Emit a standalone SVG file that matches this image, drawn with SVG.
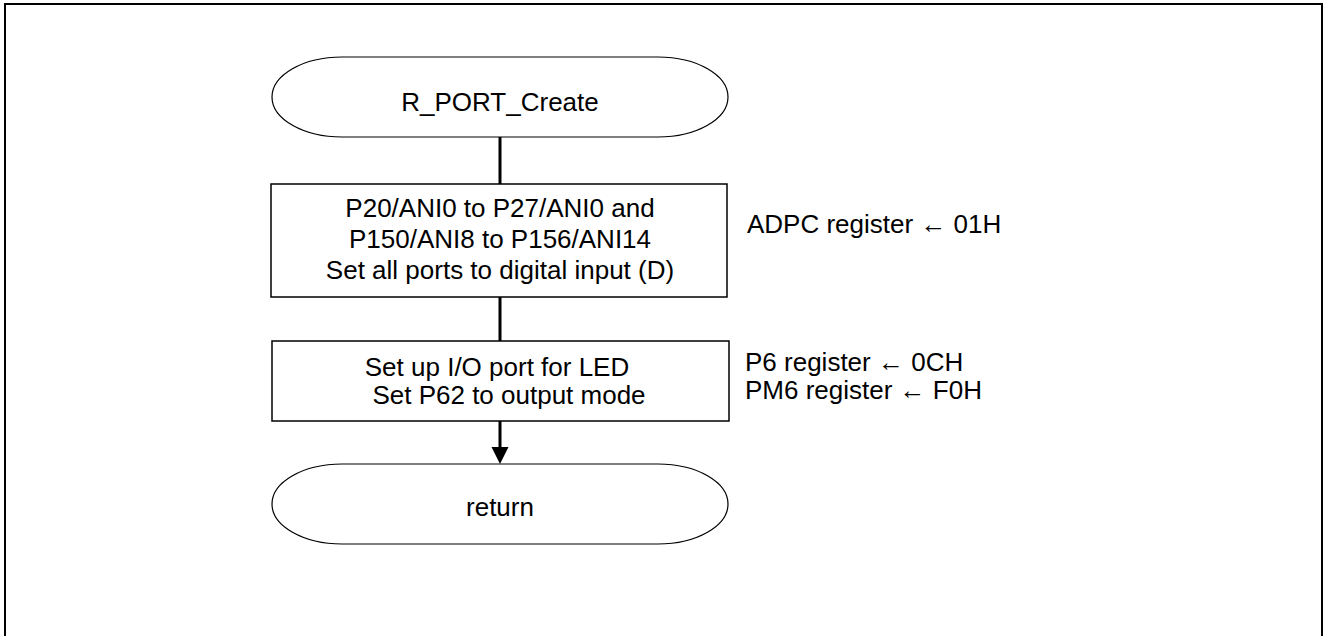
<svg xmlns="http://www.w3.org/2000/svg" width="1324" height="636" viewBox="0 0 1324 636">
<style>
  text { font-family: "Liberation Sans", Arial, sans-serif; font-size: 26px; fill: #000; }
  .c { text-anchor: middle; }
  .term { fill: #fff; stroke: #000; stroke-width: 1.2; }
  .box { fill: #fff; stroke: #000; stroke-width: 1.5; }
  .conn { stroke: #000; stroke-width: 3; fill: none; }
</style>
<rect x="0" y="0" width="1324" height="636" fill="#fff"/>
<rect x="5" y="4" width="1317" height="650" fill="none" stroke="#000" stroke-width="2"/>

<g id="connectors">
  <line class="conn" x1="500" y1="137" x2="500" y2="184"/>
  <line class="conn" x1="500" y1="297" x2="500" y2="341"/>
  <line class="conn" x1="500" y1="421" x2="500" y2="447"/>
  <path d="M491.5,447 L508.5,447 L500,464 Z" fill="#000"/>
</g>

<g id="start">
  <rect class="term" x="272" y="57" width="456" height="80" rx="70" ry="40"/>
  <text class="c" x="500" y="110.5">R_PORT_Create</text>
</g>

<g id="adpc">
  <rect class="box" x="271" y="184" width="456" height="113"/>
  <text class="c" x="500" y="217">P20/ANI0 to P27/ANI0 and</text>
  <text class="c" x="500" y="248">P150/ANI8 to P156/ANI14</text>
  <text class="c" x="500" y="278.5">Set all ports to digital input (D)</text>
</g>
<g id="adpc-note">
  <text x="747" y="232.7">ADPC register ← 01H</text>
</g>

<g id="led">
  <rect class="box" x="272" y="341" width="457" height="80"/>
  <text class="c" x="497" y="376">Set up I/O port for LED</text>
  <text class="c" x="509" y="404">Set P62 to output mode</text>
</g>
<g id="led-note">
  <text x="745" y="370.5">P6 register ← 0CH</text>
  <text x="745" y="398.5">PM6 register ← F0H</text>
</g>

<g id="return">
  <rect class="term" x="272" y="464" width="456" height="80" rx="70" ry="40"/>
  <text class="c" x="500" y="516">return</text>
</g>
</svg>
